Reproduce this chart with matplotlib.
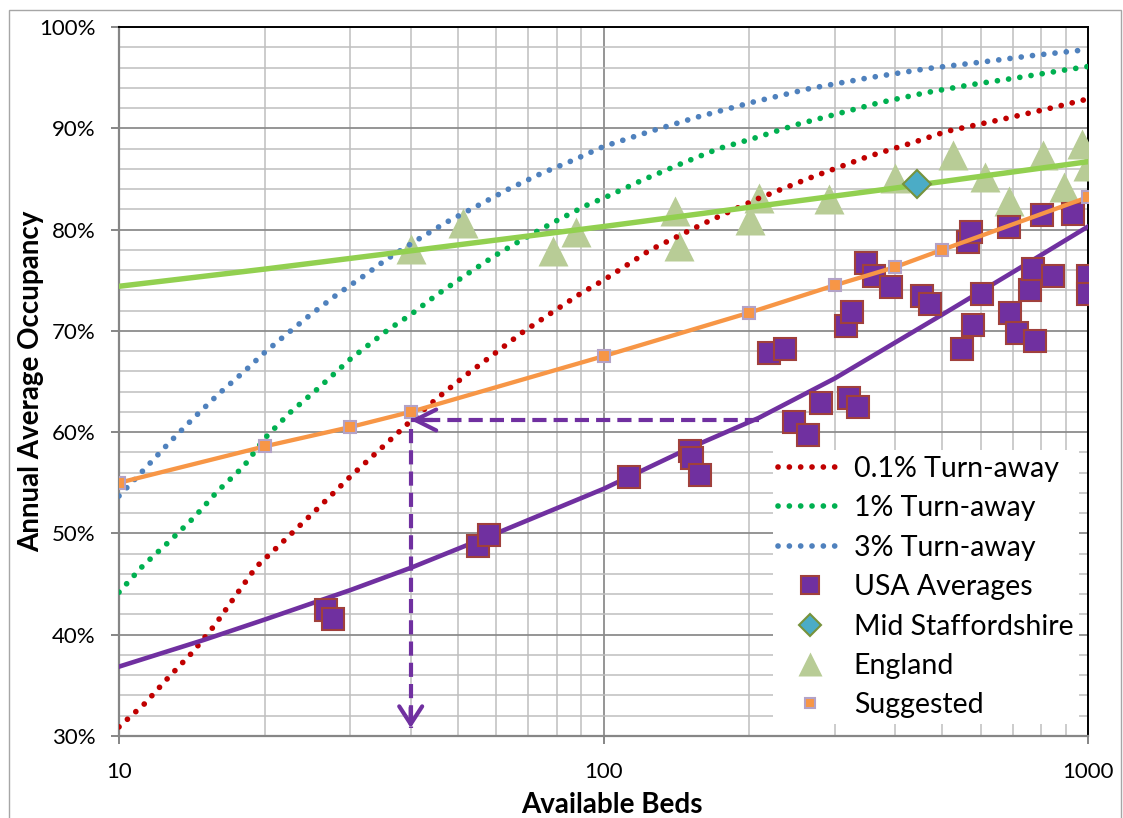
import matplotlib
matplotlib.use("Agg")
import matplotlib.pyplot as plt
from matplotlib.ticker import MultipleLocator, LogLocator, FixedLocator, FuncFormatter, NullFormatter
from matplotlib.patches import Rectangle

# ---------------- data ----------------
red_beds = [10, 11.3, 12.66, 14.2, 15.8, 17.4, 19.2, 20.9, 25.5, 30, 35.3, 40, 45.5, 51.9, 59.2,
            67.8, 77.9, 89.8, 100, 125, 161, 207, 270, 351, 436, 511, 674, 839, 1000]
red_occ = [30.9, 33.2, 35.8, 38.3, 41.0, 43.85, 46.7, 48.35, 52.3, 55.6, 58.7, 61.1, 63.4, 65.6, 67.65,
           69.8, 71.75, 73.7, 75.0, 78.0, 80.6, 83.0, 85.2, 87.2, 88.6, 89.7, 90.95, 92.0, 92.9]

green_beds = [10, 11.2, 12.66, 14.3, 15.96, 18.07, 20, 22.5, 25.6, 30, 35.9, 40, 45.1, 51.9, 59.8, 69,
              80.2, 93.2, 100, 120.5, 148, 173, 204, 252, 297, 369, 461, 573, 717, 895, 1000]
green_occ = [44.2, 46.8, 49.15, 51.6, 54.15, 56.6, 59.4, 61.9, 64.2, 67.2, 70.1, 71.6, 73.5, 75.5, 77.45, 79.2,
             80.9, 82.5, 83.1, 84.9, 86.7, 88.0, 89.0, 90.4, 91.3, 92.5, 93.5, 94.3, 95.0, 95.75, 96.1]

blue_beds = [10, 11.26, 12.66, 14.26, 16.08, 18.24, 19.8, 21.7, 24.7, 28.2, 32.4, 35.5, 41, 47.3, 54.7,
             63.7, 74.1, 86.6, 100, 125, 156, 204, 268, 354, 467, 618, 774, 966, 1000]
blue_occ = [53.7, 56.3, 58.9, 61.4, 63.8, 66.1, 67.7, 69.3, 71.5, 73.6, 75.6, 77.0, 78.9, 80.7, 82.3,
            84.0, 85.5, 86.85, 88.2, 89.7, 91.1, 92.6, 93.95, 95.0, 95.9, 96.6, 97.2, 97.7, 97.8]

usa_beds = [26.7, 27.6, 55.0, 58.1, 112.9, 150.5, 152.5, 158, 219.8, 237, 247.7, 264.7, 281.8, 316,
            321.5, 326.2, 335.6, 348.2, 361.5, 391.6, 453.6, 473, 550, 566, 573.5, 578, 603.5, 688,
            690, 714, 759, 769, 777, 805, 847, 930, 1000, 1000]
usa_occ = [42.45, 41.6, 48.8, 49.85, 55.55, 58.1, 57.4, 55.8, 67.8, 68.2, 61.0, 59.7, 62.85, 70.5,
           63.35, 71.9, 62.5, 76.7, 75.4, 74.3, 73.45, 72.7, 68.2, 78.8, 79.8, 70.6, 73.6, 80.3,
           71.8, 69.8, 74.0, 76.1, 69.0, 81.4, 75.4, 81.5, 75.4, 73.6]

staffs_beds = [443]
staffs_occ = [84.5]

england_beds = [40, 51.2, 78.5, 87.6, 140.5, 143.4, 201, 209.7, 291.6, 400, 525.6, 612, 687, 808.7,
                893, 970, 1000]
england_occ = [78.1, 80.6, 77.9, 79.8, 81.8, 78.4, 80.9, 83.1, 83.05, 85.1, 87.4, 85.2, 82.8, 87.4,
               84.2, 88.4, 86.3]

suggested_beds = [10, 20, 30, 40, 100, 200, 300, 400, 500, 1000]
suggested_occ = [55.0, 58.6, 60.5, 62.0, 67.5, 71.8, 74.5, 76.3, 78.0, 83.2]

# trend lines
usa_trend_beds = [10, 15, 20, 30, 40, 60, 100, 150, 209, 300, 500, 700, 1000]
usa_trend_occ = [36.85, 39.5, 41.5, 44.4, 46.6, 50.0, 54.4, 58.4, 61.4, 65.3, 71.6, 75.8, 80.3]
eng_trend_beds = [10, 20, 40, 100, 200, 400, 1000]
eng_trend_occ = [74.4, 76.1, 77.9, 80.3, 82.2, 84.1, 86.7]

# read-off guide (dashed arrows)
read_beds = 40
read_occ = 61.2
read_trend_beds = 209
read_floor = 30.8

y_ticks = [30, 40, 50, 60, 70, 80, 90, 100]
x_ticks = [10, 100, 1000]

# ---------------- style ----------------
plt.rcParams["font.family"] = ["Lato", "DejaVu Sans"]
W, H = 1123, 818
fig = plt.figure(figsize=(W / 100, H / 100), dpi=100)
L, R, T, B = 119, 1088, 27, 736
ax = fig.add_axes([L / W, (H - B) / H, (R - L) / W, (B - T) / H])

ax.set_xscale("log")
ax.set_xlim(10, 1000)
ax.set_ylim(30, 100)

ax.yaxis.set_major_locator(FixedLocator(y_ticks))
ax.yaxis.set_minor_locator(MultipleLocator(2))
ax.yaxis.set_major_formatter(FuncFormatter(lambda v, p: f"{v:.0f}%"))
ax.xaxis.set_major_locator(FixedLocator(x_ticks))
ax.xaxis.set_minor_locator(LogLocator(base=10, subs=range(2, 10)))
ax.xaxis.set_major_formatter(FuncFormatter(lambda v, p: f"{v:.0f}"))
ax.xaxis.set_minor_formatter(NullFormatter())

ax.set_axisbelow(True)
ax.grid(which="minor", color="#BFBFBF", lw=1.1)
ax.grid(which="major", color="#8C8C8C", lw=1.3)

for s in ["left", "bottom"]:
    ax.spines[s].set_color("#868686")
    ax.spines[s].set_linewidth(1.6)
for s in ["top", "right"]:
    ax.spines[s].set_color("black")
    ax.spines[s].set_linewidth(1.4)

ax.tick_params(which="major", direction="out", length=6, width=1.4, color="#868686",
               labelsize=16, labelcolor="black")
ax.tick_params(axis="y", which="major", pad=11)
ax.tick_params(axis="x", which="major", pad=13)
ax.tick_params(which="minor", length=0)

dot = dict(linestyle=(0, (0.01, 1.98)), dash_capstyle="round", lw=4.1)
ax.plot(red_beds, red_occ, color="#C00000", label="0.1% Turn-away", zorder=4, **dot)
ax.plot(green_beds, green_occ, color="#00B050", label="1% Turn-away", zorder=4, **dot)
ax.plot(blue_beds, blue_occ, color="#4F81BD", label="3% Turn-away", zorder=4, **dot)

ax.plot(england_beds, england_occ, "^", ms=21.5, color="#B8CC96", mec="none",
        label="England", zorder=3)
ax.plot(usa_trend_beds, usa_trend_occ, "-", color="#7030A0", lw=3.3, zorder=5)
ax.plot(eng_trend_beds, eng_trend_occ, "-", color="#92D050", lw=3.9, zorder=5)
ax.plot(usa_beds, usa_occ, "s", ms=16.5, mfc="#7030A0", mec="#A0403C", mew=1.5,
        label="USA Averages", zorder=6)
ax.plot(staffs_beds, staffs_occ, "D", ms=14, mfc="#4BACC6", mec="#77933C", mew=1.5,
        label="Mid Staffordshire", zorder=6)
ax.plot(suggested_beds, suggested_occ, "-", color="#F79646", lw=3.1, zorder=7)
ax.plot(suggested_beds, suggested_occ, "s", ms=9, mfc="#F79646", mec="#B3A2C7", mew=1.5,
        label="Suggested", zorder=7)

# dashed read-off guide with open arrow heads
purple = "#7030A0"
ax.plot([read_trend_beds, read_beds], [read_occ, read_occ], color=purple, lw=3.0,
        linestyle=(0, (3.4, 1.7)), zorder=8)
ax.plot([read_beds, read_beds], [read_occ - 0.9, read_floor], color=purple, lw=3.0,
        linestyle=(0, (3.4, 1.7)), zorder=8)
ax.annotate("", xy=(read_beds, read_occ), xytext=(read_beds * 1.11, read_occ),
            arrowprops=dict(arrowstyle="->,head_length=1.0,head_width=0.5", lw=3.0,
                            color=purple, mutation_scale=15, shrinkA=0, shrinkB=0),
            zorder=8)
ax.annotate("", xy=(read_beds, read_floor), xytext=(read_beds, read_floor + 2.0),
            arrowprops=dict(arrowstyle="->,head_length=0.85,head_width=0.55", lw=3.0,
                            color=purple, mutation_scale=15, shrinkA=0, shrinkB=0),
            zorder=8)

handles, labels = ax.get_legend_handles_labels()
order = ["0.1% Turn-away", "1% Turn-away", "3% Turn-away", "USA Averages",
         "Mid Staffordshire", "England", "Suggested"]
hmap = dict(zip(labels, handles))
leg = ax.legend([hmap[k] for k in order], order, loc="lower right",
                bbox_to_anchor=((1079 - L) / (R - L), (B - 724) / (B - T)),
                borderaxespad=0, fontsize=20.5, frameon=True, fancybox=False,
                facecolor="white", edgecolor="none", framealpha=1,
                handlelength=2.2, handletextpad=0.45, labelspacing=0.47,
                borderpad=0.2, markerscale=0.8)
leg.set_zorder(20)

ax.text((39 - L) / (R - L), 0.5, "Annual Average Occupancy", transform=ax.transAxes,
        rotation=90, rotation_mode="anchor", ha="center", va="baseline",
        fontsize=20, fontweight="bold")
ax.text((612 - L) / (R - L), (B - 813) / (B - T), "Available Beds", transform=ax.transAxes,
        ha="center", va="baseline", fontsize=20, fontweight="bold")

fig.patches.append(Rectangle((8.5 / W, -0.01), (1121 - 8.5) / W, (H - 9.5) / H + 0.01,
                             transform=fig.transFigure, fill=False, edgecolor="#A6A6A6", lw=1))

fig.savefig("out.png", dpi=100)
